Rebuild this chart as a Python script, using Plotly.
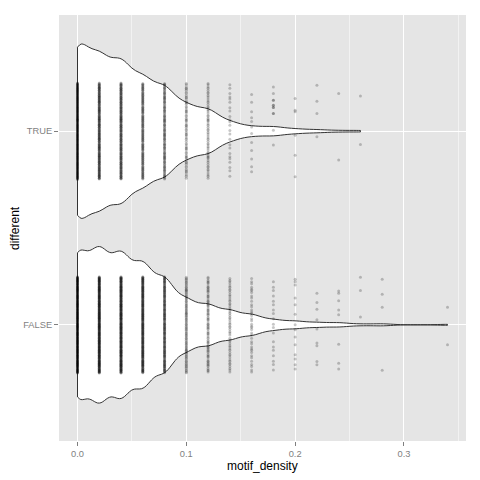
import numpy as np
import plotly.graph_objects as go

# ---- data -------------------------------------------------------------
motif_density = [0.00, 0.02, 0.04, 0.06, 0.08, 0.10, 0.12, 0.14, 0.16, 0.18,
                 0.20, 0.22, 0.24, 0.26, 0.28, 0.30, 0.32, 0.34]
count_true = [234, 191, 179, 136, 114, 66, 57, 24, 12, 12, 6, 4, 2, 2, 0, 0, 0, 0]
count_false = [276, 276, 260, 224, 170, 92, 74, 53, 38, 19, 14, 9, 8, 3, 4, 0, 0, 2]
group_labels = ["FALSE", "TRUE"]
group_pos = [1, 2]

# jitter offsets for the sparse columns
jitter_true = {
    0.16: [0.189, 0.150, 0.100, 0.070, 0.050, 0.022, -0.012, -0.058, -0.100, -0.144, -0.184, -0.210],
    0.18: [0.228, 0.194, 0.160, 0.134, 0.122, 0.091, 0.005, -0.072, 0.134, 0.091, 0.122, 0.160],
    0.20: [0.169, 0.108, 0.100, -0.021, -0.124, -0.235],
    0.22: [0.237, 0.155, 0.091, -0.029],
    0.24: [0.194, -0.149],
    0.26: [0.182, -0.069],
}
jitter_false = {
    0.20: [0.235, 0.222, 0.206, 0.138, 0.103, 0.055, 0.0, -0.026, -0.063, -0.103, -0.155, -0.177, -0.206, -0.228],
    0.22: [0.163, 0.115, 0.080, 0.026, -0.022, -0.094, -0.108, -0.189, -0.206],
    0.24: [0.175, 0.163, 0.124, 0.077, 0.052, -0.100, -0.198, -0.228],
    0.26: [0.246, 0.177, 0.040],
    0.28: [0.235, 0.158, 0.091, -0.234],
    0.34: [0.091, -0.103],
}

x_ticks = [0.0, 0.1, 0.2, 0.3]
x_tick_text = ["0.0", "0.1", "0.2", "0.3"]

# ---- helpers ----------------------------------------------------------
def bw_nrd0(v):
    v = np.asarray(v, float)
    sd = v.std(ddof=1)
    q75, q25 = np.percentile(v, [75, 25])
    lo = min(sd, (q75 - q25) / 1.34)
    return 0.9 * lo * len(v) ** -0.2


def max_kde(v, bw):
    v = np.asarray(v, float)
    lo, hi = v.min(), v.max()
    n = int(np.ceil((hi - lo) / (bw / 3)))
    grid = np.linspace(lo, hi, n + 1)
    dens = np.exp(-0.5 * ((grid[:, None] - v[None, :]) / bw) ** 2).sum(1) / (len(v) * bw)
    return dens.max()


def spread(n, half=0.25):
    k = np.arange(1, n + 1)
    return ((k * 0.6180339887) % 1.0 - 0.5) * 2 * half


def jitter_points(counts, sparse, pos):
    xs, ys = [], []
    for xv, n in zip(motif_density, counts):
        if n == 0:
            continue
        key = round(xv, 2)
        offs = sparse.get(key)
        if offs is None or len(offs) != n:
            offs = spread(n)
        xs.extend([xv] * n)
        ys.extend(list(pos + np.asarray(offs)))
    return xs, ys


samples = {
    "TRUE": np.repeat(motif_density, count_true),
    "FALSE": np.repeat(motif_density, count_false),
}
bws = {k: bw_nrd0(v) for k, v in samples.items()}
peaks = {k: max_kde(samples[k], bws[k]) for k in samples}
top_peak = max(peaks.values())

fig = go.Figure()
for lab, pos in zip(group_labels, group_pos):
    s = samples[lab]
    fig.add_trace(go.Violin(
        x=s, y0=pos, orientation="h", name=lab,
        spanmode="hard", bandwidth=bws[lab],
        scalemode="width", width=0.9 * peaks[lab] / top_peak,
        fillcolor="white", line=dict(color="#333333", width=1),
        points=False, box_visible=False, meanline_visible=False,
        showlegend=False, hoverinfo="skip",
    ))

for lab, pos, counts, sparse in [("FALSE", 1, count_false, jitter_false),
                                  ("TRUE", 2, count_true, jitter_true)]:
    xs, ys = jitter_points(counts, sparse, pos)
    fig.add_trace(go.Scatter(
        x=xs, y=ys, mode="markers",
        marker=dict(color="rgba(0,0,0,0.22)", size=3, line=dict(width=0)),
        showlegend=False, hoverinfo="skip",
    ))

font_family = "Liberation Sans, Arial, sans-serif"
fig.update_layout(
    width=472, height=472,
    margin=dict(l=51, r=14, t=7, b=39, autoexpand=False),
    paper_bgcolor="white", plot_bgcolor="#E5E5E5",
    violinmode="overlay",
    font=dict(family=font_family, size=12, color="black"),
    showlegend=False,
    annotations=[
        dict(text="motif_density", xref="paper", yref="paper", x=0.5, y=0,
             xanchor="center", yanchor="middle", yshift=-25, showarrow=False,
             font=dict(size=12, color="black")),
        dict(text="different", xref="paper", yref="paper", x=0, y=0.5,
             xanchor="center", yanchor="middle", xshift=-44, textangle=-90,
             showarrow=False, font=dict(size=12, color="black")),
    ],
)
fig.update_xaxes(
    automargin=False,
    range=[-0.017, 0.357], tickvals=x_ticks, ticktext=x_tick_text,
    showgrid=True, gridcolor="white", gridwidth=1.2, zeroline=False,
    minor=dict(tickvals=[0.05, 0.15, 0.25, 0.35], showgrid=True,
               gridcolor="#F2F2F2", gridwidth=0.6, ticklen=0),
    ticks="outside", ticklen=4, tickcolor="#7F7F7F", tickwidth=1,
    tickfont=dict(size=9.3, color="#7F7F7F"),
    showline=False,
)
fig.update_yaxes(
    automargin=False,
    range=[0.4, 2.6], tickvals=group_pos, ticktext=group_labels,
    showgrid=True, gridcolor="white", gridwidth=1.2, zeroline=False,
    ticks="outside", ticklen=4, tickcolor="#7F7F7F", tickwidth=1,
    tickfont=dict(size=9.3, color="#7F7F7F"),
    showline=False,
)

fig.write_html("out.html")
